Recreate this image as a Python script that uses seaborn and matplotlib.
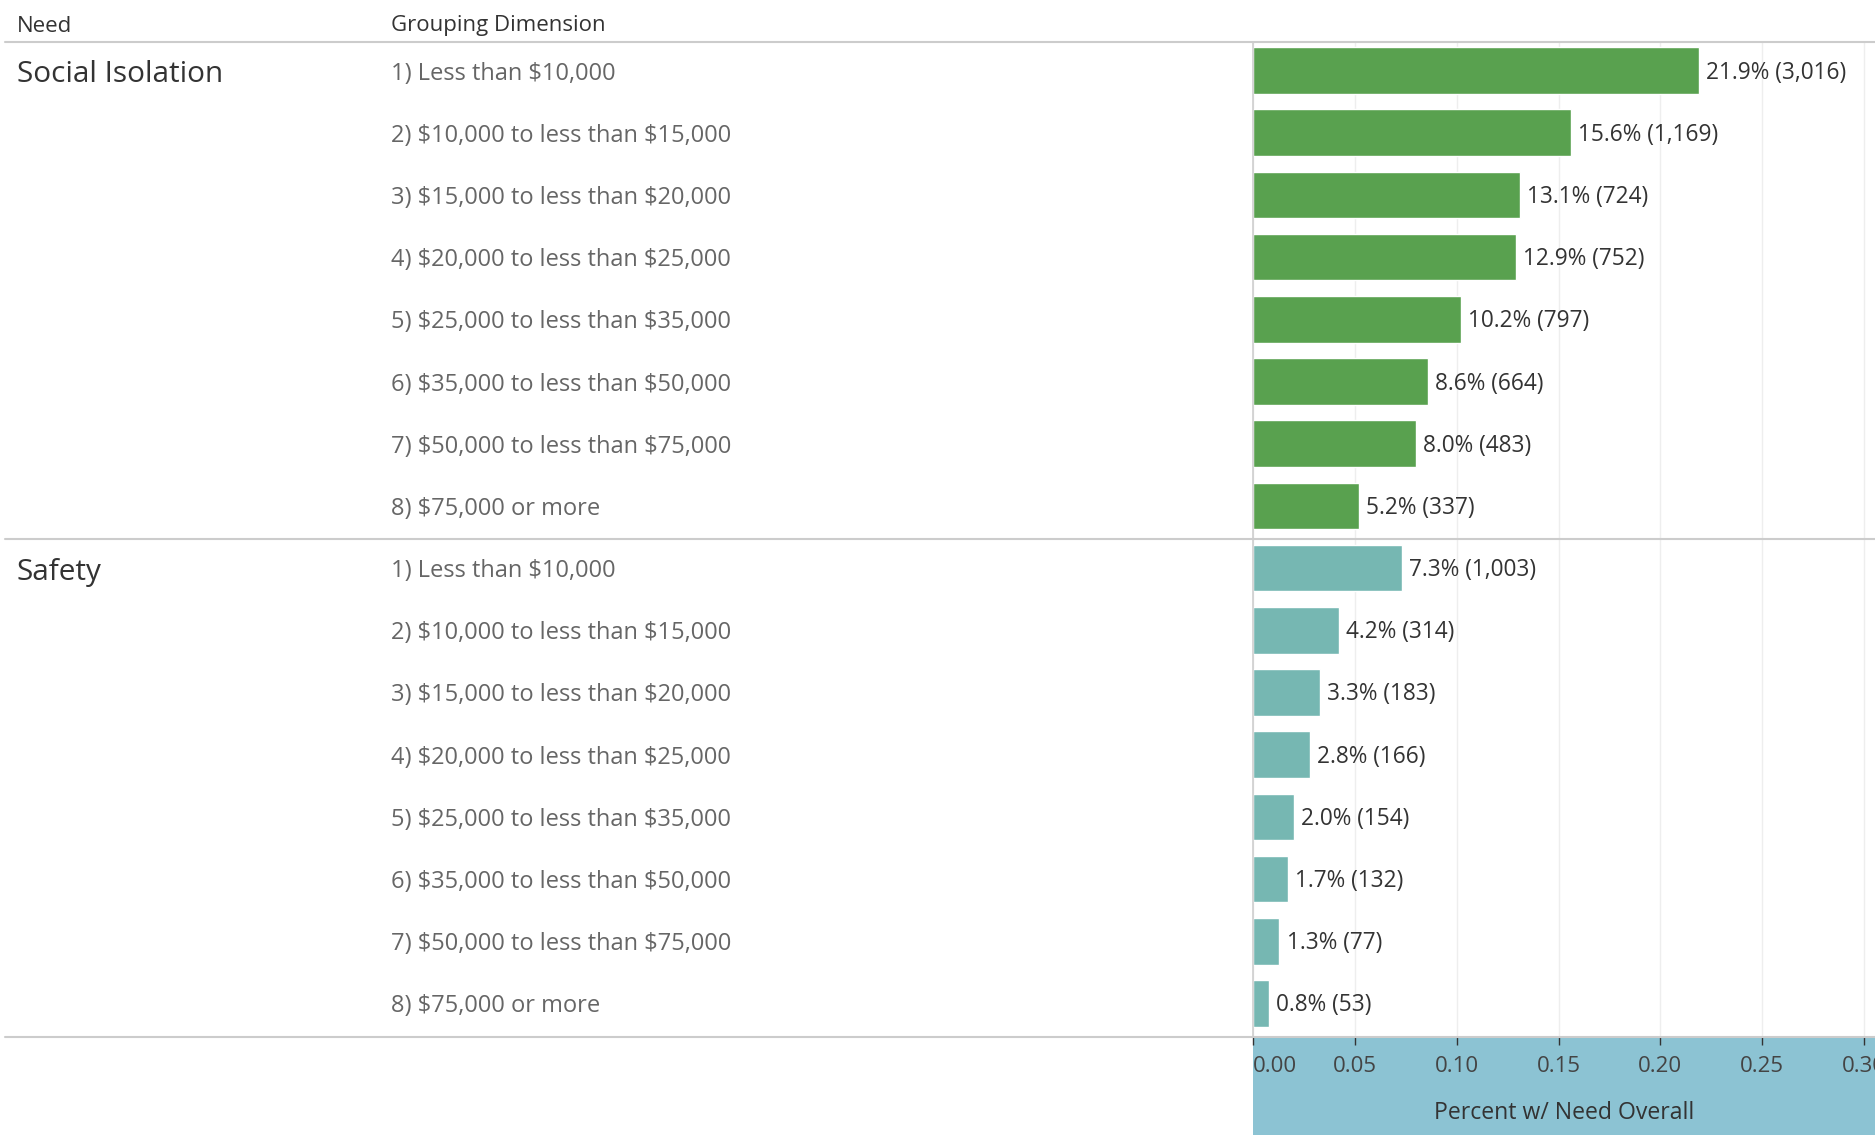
import numpy as np
import pandas as pd
import matplotlib
matplotlib.use("Agg")
import matplotlib.pyplot as plt
import matplotlib.transforms as mtransforms
from matplotlib.patches import Rectangle
import seaborn as sns

# ---- data ------------------------------------------------------------------
NEEDS = ["Social Isolation", "Safety"]
INCOME = [
    "1) Less than $10,000",
    "2) $10,000 to less than $15,000",
    "3) $15,000 to less than $20,000",
    "4) $20,000 to less than $25,000",
    "5) $25,000 to less than $35,000",
    "6) $35,000 to less than $50,000",
    "7) $50,000 to less than $75,000",
    "8) $75,000 or more",
]
SOCIAL_PCT = [0.219, 0.156, 0.131, 0.129, 0.102, 0.086, 0.080, 0.052]
SOCIAL_N = [3016, 1169, 724, 752, 797, 664, 483, 337]
SAFETY_PCT = [0.073, 0.042, 0.033, 0.028, 0.020, 0.017, 0.013, 0.008]
SAFETY_N = [1003, 314, 183, 166, 154, 132, 77, 53]
X_TICKS = [0.00, 0.05, 0.10, 0.15, 0.20, 0.25, 0.30]

COLORS = {"Social Isolation": "#59A14F", "Safety": "#76B7B2"}
BAND = "#8CC3D3"

df = pd.DataFrame({
    "need": np.repeat(NEEDS, len(INCOME)),
    "group": INCOME * 2,
    "pct": SOCIAL_PCT + SAFETY_PCT,
    "n": SOCIAL_N + SAFETY_N,
})
df["row"] = df["need"] + " | " + df["group"]

# ---- style -----------------------------------------------------------------
sns.set_theme(style="white")
plt.rcParams["font.family"] = ["Open Sans", "DejaVu Sans"]
plt.rcParams["text.parse_math"] = False  # keep the dollar signs literal

W, H = 1875, 1135
fig = plt.figure(figsize=(W / 100, H / 100), dpi=100)
fig.patch.set_facecolor("white")

x0 = 1253 / W
top = 42
mid = 539
bottom = 1037
ax = fig.add_axes([x0, (H - bottom) / H, 1 - x0, (bottom - top) / H])

sns.barplot(data=df, x="pct", y="row", hue="need", palette=COLORS,
            order=df["row"], dodge=False, legend=False, width=0.75,
            saturation=1, ax=ax)

ax.set_xlim(0, 0.3054)
ax.set_ylim(len(df) - 0.5 + 0.04, -0.5 + 0.04)
ax.set_yticks([])
ax.set_ylabel("")
ax.set_xticks(X_TICKS)
ax.set_xticklabels([f"{t:.2f}" for t in X_TICKS])
ax.get_xticklabels()[0].set_horizontalalignment("left")
ax.tick_params(axis="x", direction="out", length=6, width=1, color="#333333",
               labelsize=16, labelcolor="#444444", pad=8, bottom=True)
ax.set_xlabel("Percent w/ Need Overall", fontsize=16.6, color="#333333", labelpad=17)
ax.xaxis.grid(True, color="#EEEEEE", linewidth=1)
ax.set_axisbelow(True)
for s in ["top", "right", "bottom"]:
    ax.spines[s].set_visible(False)
ax.spines["left"].set_color("#D0D0D0")

# axis band
fig.add_artist(Rectangle((x0, 0), 1 - x0, (H - bottom) / H, transform=fig.transFigure,
                         facecolor=BAND, edgecolor="none", zorder=-1))

# value labels (nudged down a touch so they sit on the bar centre)
val_tr = mtransforms.offset_copy(ax.transData, fig=fig, y=-2, units="dots")
for i, r in df.iterrows():
    ax.text(r["pct"] + 0.0035, i, f"{r['pct']*100:.1f}% ({r['n']:,})", transform=val_tr,
            va="center", ha="left", fontsize=16.3, color="#333333")

# row headers in figure x / data y
blend = mtransforms.blended_transform_factory(fig.transFigure, ax.transData)
row_tr = mtransforms.offset_copy(blend, fig=fig, y=-3, units="dots")
need_tr = mtransforms.offset_copy(blend, fig=fig, y=-4, units="dots")
for i, r in df.iterrows():
    ax.text(391 / W, i, r["group"], transform=row_tr, va="center", ha="left",
            fontsize=17, color="#666666", clip_on=False)
for k, need in enumerate(NEEDS):
    ax.text(17 / W, k * len(INCOME), need, transform=need_tr, va="center", ha="left",
            fontsize=21.4, color="#333333", clip_on=False)

# separators
for yp in [top, mid, bottom]:
    fig.add_artist(plt.Line2D([5 / W, 1], [1 - yp / H, 1 - yp / H],
                              transform=fig.transFigure, color="#CCCCCC",
                              linewidth=1.5, zorder=5))

# column headers
fig.text(17 / W, 1 - 26 / H, "Need", fontsize=16, color="#333333", va="center")
fig.text(391 / W, 1 - 26 / H, "Grouping Dimension", fontsize=16, color="#333333", va="center")

fig.savefig("out.png", dpi=100)
